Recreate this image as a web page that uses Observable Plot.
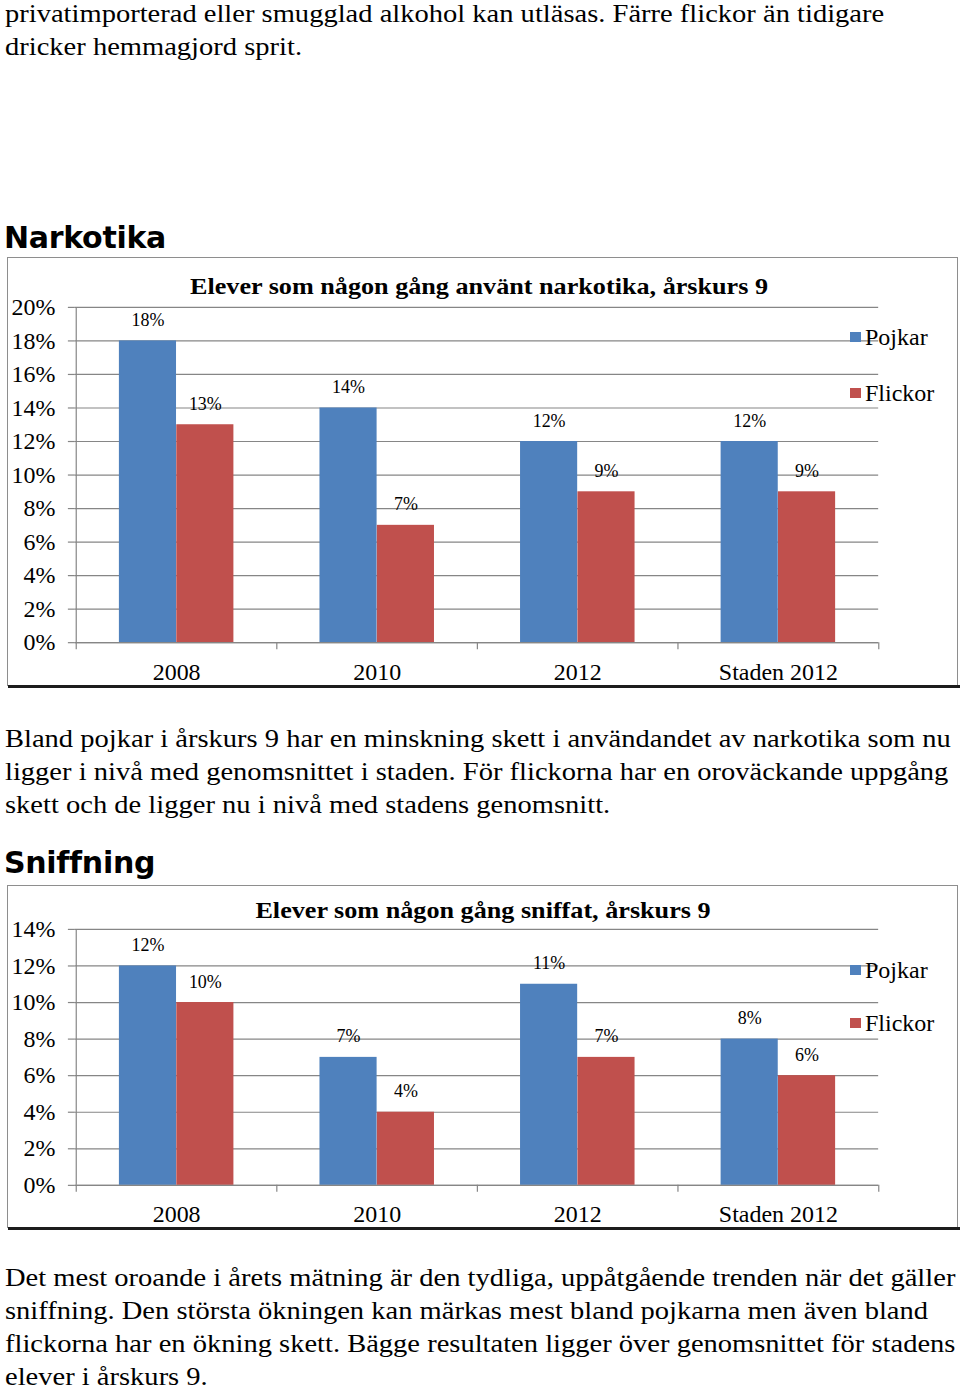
<!DOCTYPE html>
<html>
<head>
<meta charset="utf-8">
<script src="https://cdn.jsdelivr.net/npm/d3@7"></script>
<script src="https://cdn.jsdelivr.net/npm/@observablehq/plot@0.6"></script>
<style>
  html, body { margin: 0; padding: 0; background: #fff; }
  body { width: 960px; height: 1390px; position: relative; overflow: hidden; font-family: "Liberation Serif", "Times New Roman", serif; color: #000; }
  .abs { position: absolute; white-space: pre; }
  .para { font-size: 26px; line-height: 33px; left: 5px; transform: scaleX(1.097); transform-origin: 0 0; }
  .heading { font-family: "DejaVu Sans", sans-serif; font-weight: bold; font-size: 30px; line-height: 30px; left: 4px; letter-spacing: -0.3px; }
  .frame { position: absolute; left: 7px; width: 951px; box-sizing: border-box; border: 1px solid #8e8e8e; border-bottom: none; }
  .shadow { position: absolute; left: 8px; width: 952px; height: 3px; background: #1c1c1c; }
  .ctitle { position: absolute; font-weight: bold; font-size: 24px; line-height: 24px; white-space: nowrap; transform: translateX(-50%) scaleX(1.09); }
  .leg { position: absolute; font-size: 24px; line-height: 24px; white-space: nowrap; }
  .sw { position: absolute; width: 11px; height: 10px; }
  .frame svg { position: absolute; left: -1px; top: -1px; }
</style>
</head>
<body>
<script>
// ---------- data ----------
const categories = ["2008", "2010", "2012", "Staden 2012"];
const series = ["Pojkar", "Flickor"];
const seriesColors = ["#4f81bd", "#c0504d"];

const narkotikaPojkar = [18, 14, 12, 12];
const narkotikaFlickor = [13, 7, 9, 9];
const narkotikaTicks = [0, 2, 4, 6, 8, 10, 12, 14, 16, 18, 20];

const sniffPojkar = [12, 7, 11, 8];
const sniffFlickor = [10, 4, 7, 6];
const sniffTicks = [0, 2, 4, 6, 8, 10, 12, 14];

const introLines = [
  "privatimporterad eller smugglad alkohol kan utläsas. Färre flickor än tidigare",
  "dricker hemmagjord sprit."
];
const narkotikaText = [
  "Bland pojkar i årskurs 9 har en minskning skett i användandet av narkotika som nu",
  "ligger i nivå med genomsnittet i staden. För flickorna har en oroväckande uppgång",
  "skett och de ligger nu i nivå med stadens genomsnitt."
];
const sniffText = [
  "Det mest oroande i årets mätning är den tydliga, uppåtgående trenden när det gäller",
  "sniffning. Den största ökningen kan märkas mest bland pojkarna men även bland",
  "flickorna har en ökning skett. Bägge resultaten ligger över genomsnittet för stadens",
  "elever i årskurs 9."
];

// ---------- helpers ----------
function addDiv(cls, text, style) {
  const d = document.createElement("div");
  d.className = cls;
  d.textContent = text;
  Object.assign(d.style, style);
  document.body.appendChild(d);
  return d;
}
// paragraph: first baseline -> top  (26px Liberation Serif in 33px line)
function para(lines, baseline) {
  addDiv("abs para", lines.join("\n"), { top: (baseline - 25.3) + "px" });
}

const GRID = "#868686";
const FW = 951;

function chart(opts) {
  const { top, height, marginTop, marginBottom, yMax, ticks, pojkar, flickor, title, titleX, titleBaseline, legendTops } = opts;
  const frame = document.createElement("div");
  frame.className = "frame";
  frame.style.top = top + "px";
  frame.style.height = height + "px";
  document.body.appendChild(frame);

  const data = categories.flatMap((c, i) => [
    { cat: c, serie: series[0], value: pojkar[i] },
    { cat: c, serie: series[1], value: flickor[i] }
  ]);
  const marginLeft = 68, marginRight = 78;
  const bw = (FW - marginLeft - marginRight) / categories.length;
  const barW = 57.5;
  const plotH = height - marginTop - marginBottom;
  const half = bw / 2;

  const svg = Plot.plot({
    width: FW,
    height,
    marginLeft, marginRight, marginTop, marginBottom,
    style: { fontFamily: "'Liberation Serif', 'Times New Roman', serif", background: "transparent", overflow: "visible", color: "#000" },
    x: { domain: categories, padding: 0, axis: null },
    y: { domain: [0, yMax], axis: null },
    color: { domain: series, range: seriesColors },
    marks: [
      Plot.gridY(ticks, { stroke: GRID, strokeOpacity: 1, strokeWidth: 1.2 }),
      Plot.axisY({ ticks, tickSize: 7, tickPadding: 13, tickFormat: d => d + "%", fontSize: 24, stroke: GRID, fill: "#000", strokeWidth: 1.2, label: null }),
      Plot.ruleX([categories[0]], { dx: -half, stroke: GRID, strokeWidth: 1.2 }),
      Plot.barY(data.filter(d => d.serie === series[0]), { x: "cat", y: "value", fill: "serie", insetLeft: half - barW, insetRight: half }),
      Plot.barY(data.filter(d => d.serie === series[1]), { x: "cat", y: "value", fill: "serie", insetLeft: half, insetRight: half - barW }),
      Plot.ruleY([0], { stroke: GRID, strokeWidth: 1.2 }),
      Plot.ruleX(categories, { dx: -half, stroke: GRID, strokeWidth: 1.2, insetTop: plotH, insetBottom: -7 }),
      Plot.ruleX([categories[categories.length - 1]], { dx: half, stroke: GRID, strokeWidth: 1.2, insetTop: plotH, insetBottom: -7 }),
      Plot.text(data.filter(d => d.serie === series[0]), { x: "cat", y: "value", text: d => d.value + "%", dx: -barW / 2, dy: -15, lineAnchor: "bottom", fontSize: 18, fill: "#000" }),
      Plot.text(data.filter(d => d.serie === series[1]), { x: "cat", y: "value", text: d => d.value + "%", dx: barW / 2, dy: -15, lineAnchor: "bottom", fontSize: 18, fill: "#000" }),
      Plot.axisX({ tickSize: 0, tickPadding: 20, fontSize: 24, fill: "#000", label: null })
    ]
  });
  frame.appendChild(svg);

  // chart title (centered)
  const t = document.createElement("div");
  t.className = "ctitle";
  t.textContent = title;
  t.style.left = (titleX - 7) + "px";
  t.style.top = (titleBaseline - top - 20.1) + "px";
  frame.appendChild(t);

  // legend
  series.forEach((s, i) => {
    const sw = document.createElement("div");
    sw.className = "sw";
    sw.style.background = seriesColors[i];
    sw.style.left = (850 - 8) + "px";
    sw.style.top = (legendTops[i] - top - 1) + "px";
    frame.appendChild(sw);
    const l = document.createElement("div");
    l.className = "leg";
    l.textContent = s;
    l.style.left = (865 - 8) + "px";
    l.style.top = (legendTops[i] + 13.5 - 20.1 - top - 1) + "px";
    frame.appendChild(l);
  });

  addDiv("shadow", "", { top: (top + height - 1) + "px" });
}

// ---------- page ----------
para(introLines, 22);
addDiv("abs heading", "Narkotika", { top: (248 - 25.4) + "px" });

chart({
  top: 257, height: 429, marginTop: 50, marginBottom: 43,
  yMax: 20, ticks: narkotikaTicks,
  pojkar: narkotikaPojkar, flickor: narkotikaFlickor,
  title: "Elever som någon gång använt narkotika, årskurs 9",
  titleX: 478, titleBaseline: 293,
  legendTops: [332, 388]
});

para(narkotikaText, 747);
addDiv("abs heading", "Sniffning", { top: (873 - 25.4) + "px" });

chart({
  top: 885, height: 343, marginTop: 44, marginBottom: 42.5,
  yMax: 14, ticks: sniffTicks,
  pojkar: sniffPojkar, flickor: sniffFlickor,
  title: "Elever som någon gång sniffat, årskurs 9",
  titleX: 482, titleBaseline: 917,
  legendTops: [965, 1018]
});

para(sniffText, 1286.7);
</script>
</body>
</html>
